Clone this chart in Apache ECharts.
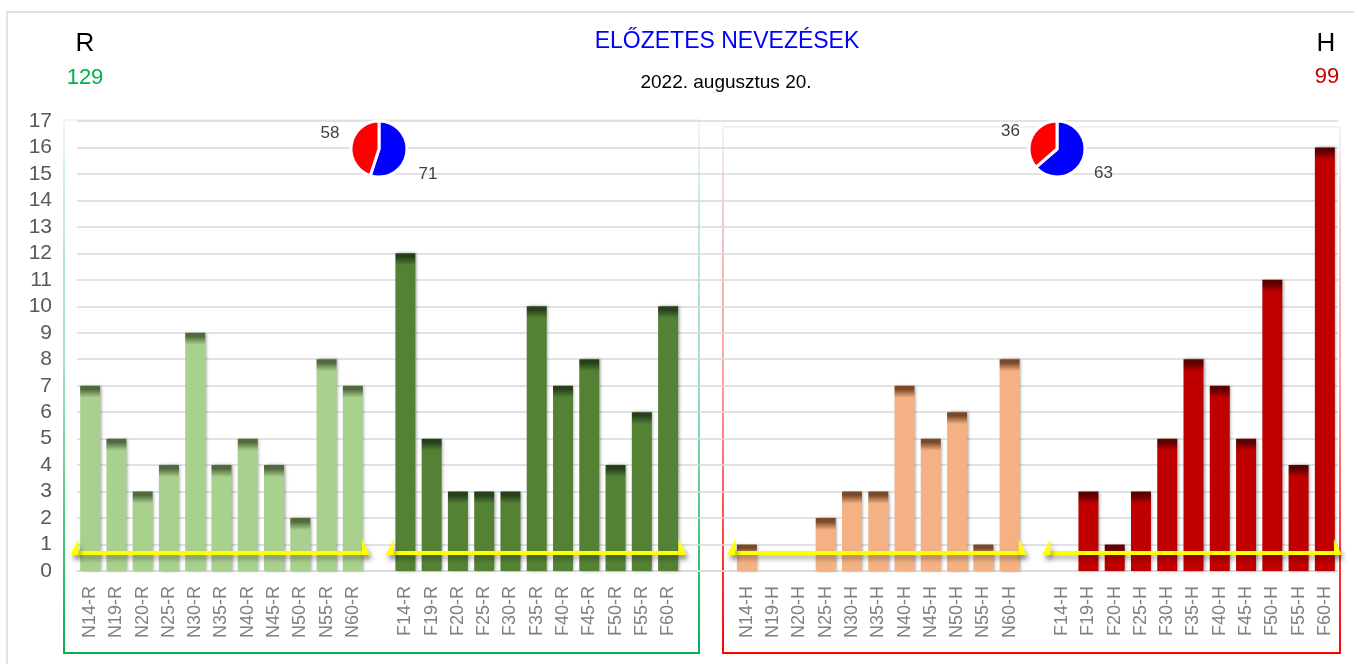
<!DOCTYPE html>
<html>
<head>
<meta charset="utf-8">
<script src="https://cdn.jsdelivr.net/npm/echarts@6/dist/echarts.min.js"></script>
<style>
html,body{margin:0;padding:0;background:#fff;}
#c{width:1354px;height:664px;}
</style>
</head>
<body>
<div id="c"></div>
<script>
// ---- data ----
const labelsNR = ['N14-R','N19-R','N20-R','N25-R','N30-R','N35-R','N40-R','N45-R','N50-R','N55-R','N60-R'];
const labelsFR = ['F14-R','F19-R','F20-R','F25-R','F30-R','F35-R','F40-R','F45-R','F50-R','F55-R','F60-R'];
const labelsNH = ['N14-H','N19-H','N20-H','N25-H','N30-H','N35-H','N40-H','N45-H','N50-H','N55-H','N60-H'];
const labelsFH = ['F14-H','F19-H','F20-H','F25-H','F30-H','F35-H','F40-H','F45-H','F50-H','F55-H','F60-H'];
const valuesNR = [7,5,3,4,9,4,5,4,2,8,7];
const valuesFR = [12,5,3,3,3,10,7,8,4,6,10];
const valuesNH = [1,0,0,2,3,3,7,5,6,1,8];
const valuesFH = [0,3,1,3,5,8,7,5,11,4,16];
const pieR = [71,58];   // blue, red
const pieH = [63,36];   // blue, red
const totalR = '129';
const totalH = '99';
const titleText = 'ELŐZETES NEVEZÉSEK';
const dateText = '2022. augusztus 20.';
const yTicks = [0,1,2,3,4,5,6,7,8,9,10,11,12,13,14,15,16,17];
const arrows = [[-0.75,10.65],[11.25,22.7],[24.25,35.65],[36.25,47.65]];
const arrowLevel = 0.68;

// ---- layout of categories ----
const categories = [...labelsNR, ' ', ...labelsFR, '  ', '   ', ...labelsNH, '    ', ...labelsFH];
const N = categories.length;
function place(vals, offset){
  const arr = new Array(N).fill('-');
  vals.forEach((v,i)=>{ arr[offset+i] = v; });
  return arr;
}
const offNR = 0, offFR = labelsNR.length + 1, offNH = offFR + labelsFR.length + 2, offFH = offNH + labelsNH.length + 1;

const UNIT_PX = 26.47;
function barColor(base, dark){
  return function(p){
    const v = typeof p.value === 'number' ? p.value : 0;
    const h = Math.max(1, v * UNIT_PX);
    const f = Math.min(1, 12 / h);
    return new echarts.graphic.LinearGradient(0,0,0,1,[
      {offset:0, color:dark},
      {offset:f*0.3, color:dark},
      {offset:f, color:base},
      {offset:1, color:base}
    ]);
  };
}
function barSeries(name, vals, off, base, dark){
  return {
    name, type:'bar', stack:'all', xAxisIndex:0, yAxisIndex:0,
    barCategoryGap:'24%',
    data: place(vals, off),
    itemStyle:{
      color: barColor(base, dark),
      shadowBlur:3, shadowOffsetX:1.5, shadowOffsetY:0, shadowColor:'rgba(0,0,0,0.35)'
    },
    emphasis:{disabled:true}
  };
}

function halfHead(x, y, dir){
  return {
    type:'polygon',
    shape:{points:[[x, y+2],[x+dir*8, y-14],[x+dir*8, y+2]]},
    style:{fill:'#ffff00', shadowBlur:5, shadowOffsetX:2, shadowOffsetY:4, shadowColor:'rgba(0,0,0,0.35)'}
  };
}

function pieSeries(vals, center, offsets){
  return {
    type:'pie', radius:28, center, startAngle:90, clockwise:true,
    data:[
      {value:vals[0], itemStyle:{color:'#0000ff'}, label:{offset:[0,offsets[0]]}},
      {value:vals[1], itemStyle:{color:'#ff0000'}, label:{offset:[0,offsets[1]]}}
    ],
    itemStyle:{borderColor:'#fff', borderWidth:3},
    label:{show:true, position:'outside', formatter:'{c}', color:'#404040', fontSize:17, fontFamily:'Liberation Sans'},
    labelLine:{show:false, length:5, length2:2},
    emphasis:{disabled:true},
    z:5
  };
}

function boxStroke(color){
  return new echarts.graphic.LinearGradient(0,0,0,1,[
    {offset:0, color:'rgba(230,240,250,0.6)'},
    {offset:0.45, color:color.replace('1)','0.35)')},
    {offset:1, color:color}
  ]);
}
function txt(text, x, y, color, size){
  return {type:'text', x, y, z:20, style:{text, fill:color, fontSize:size, fontFamily:'Liberation Sans', textAlign:'center', textVerticalAlign:'middle'}};
}

const chart = echarts.init(document.getElementById('c'), null, {renderer:'canvas'});
const option = {
  animation:false,
  backgroundColor:'#fff',
  grid:{left:77, right:16, top:121, bottom:93, containLabel:false},
  xAxis:[
    {type:'category', data:categories, boundaryGap:true,
     axisLine:{show:true, lineStyle:{color:'#d9d9d9', width:1.5}}, axisTick:{show:false},
     axisLabel:{rotate:90, interval:0, margin:15, color:'#808080', fontSize:18, fontFamily:'Liberation Sans'},
     splitLine:{show:false}},
    {type:'value', min:-0.5, max:N-0.5, show:false}
  ],
  yAxis:[{type:'value', min:yTicks[0], max:yTicks[yTicks.length-1], interval:1,
    axisLine:{show:false}, axisTick:{show:false},
    axisLabel:{margin:25, color:'#595959', fontSize:21, fontFamily:'Liberation Sans'},
    splitLine:{lineStyle:{color:'#d9d9d9', width:1.5}}}],
  series:[
    barSeries('NR', valuesNR, offNR, '#a9d18e', '#4f6b3c'),
    barSeries('FR', valuesFR, offFR, '#548235', '#26401a'),
    barSeries('NH', valuesNH, offNH, '#f4b183', '#7a4a28'),
    barSeries('FH', valuesFH, offFH, '#c00000', '#5c0000'),
    {
      type:'custom', xAxisIndex:1, yAxisIndex:0, clip:false, z:10,
      data: arrows.map(a=>[a[0], a[1], arrowLevel]),
      renderItem:function(params, api){
        const p1 = api.coord([api.value(0), api.value(2)]);
        const p2 = api.coord([api.value(1), api.value(2)]);
        const y = p1[1];
        return {type:'group', children:[
          {type:'line', shape:{x1:p1[0]+3, y1:y, x2:p2[0]-3, y2:y},
           style:{stroke:'#ffff00', lineWidth:4, shadowBlur:5, shadowOffsetX:2, shadowOffsetY:4, shadowColor:'rgba(0,0,0,0.35)'}},
          halfHead(p1[0], y, 1),
          halfHead(p2[0], y, -1)
        ]};
      },
      emphasis:{disabled:true}
    },
    pieSeries(pieR, [379,149], [20,-10]),
    pieSeries(pieH, [1057,149], [11,-4])
  ],
  graphic:[
    {type:'rect', z:-10, shape:{x:7, y:12, width:1400, height:720}, style:{fill:'none', stroke:'#d9d9d9', lineWidth:1.5}},
    {type:'rect', z:-5, shape:{x:64, y:120, width:635, height:533}, style:{fill:'none', stroke:boxStroke('rgba(0,176,80,1)'), lineWidth:2}},
    {type:'rect', z:-5, shape:{x:723, y:127, width:617, height:526}, style:{fill:'none', stroke:boxStroke('rgba(255,0,0,1)'), lineWidth:2}},
    txt(titleText, 727, 42, '#0000ff', 23),
    txt(dateText, 726, 83, '#000000', 19),
    txt('R', 85, 44, '#000000', 26),
    txt(totalR, 85, 78, '#00b050', 22),
    txt('H', 1326, 44, '#000000', 26),
    txt(totalH, 1327, 77, '#c00000', 22)
  ]
};
chart.setOption(option);
</script>
</body>
</html>
